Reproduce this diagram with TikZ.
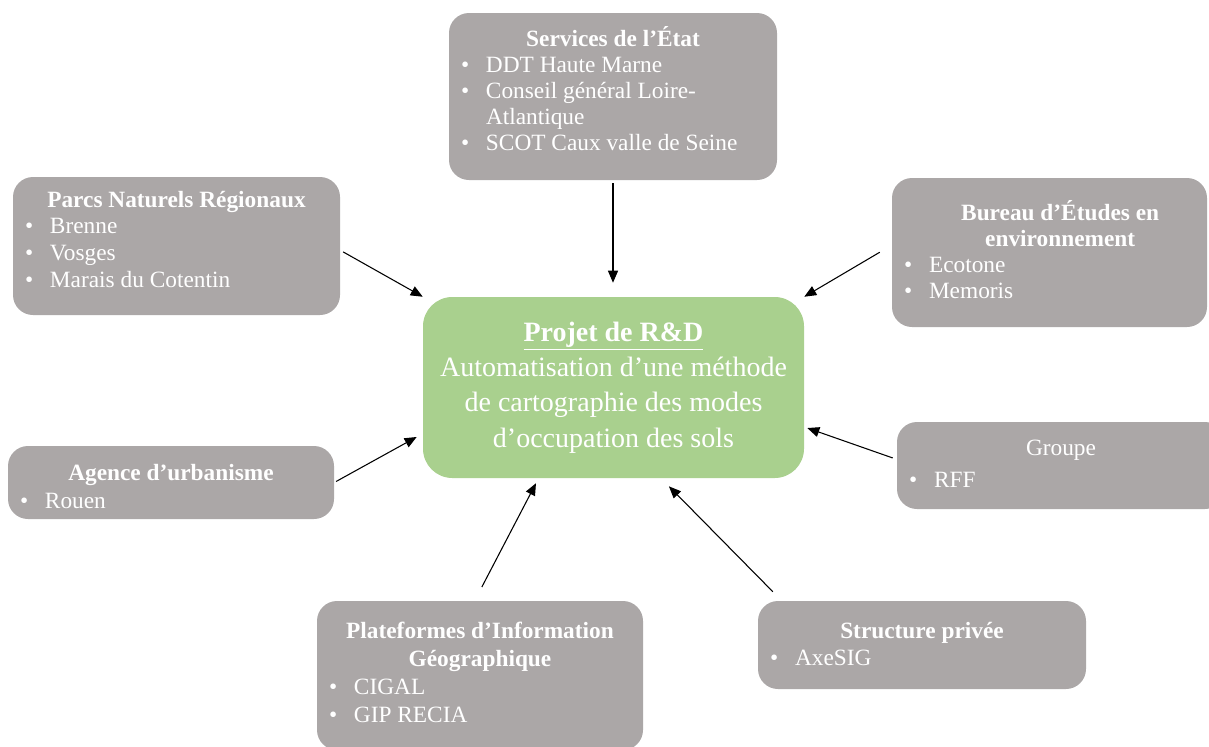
\documentclass[tikz,border=0pt]{standalone}
\usepackage{fontspec}
\setmainfont{Liberation Serif}
\usetikzlibrary{arrows.meta}

\definecolor{boxgrey}{HTML}{ABA7A7}
\definecolor{projgreen}{HTML}{A9D08E}

% one bullet line inside a box
\newcommand\itm{\par\noindent\hspace*{3pt}\makebox[18.75pt][l]{\textbullet}}
% continuation of a bullet line
\newcommand\suite{\par\noindent\hspace*{21.75pt}}

\tikzset{
  bloc/.style={draw=none, fill=boxgrey, rounded corners=15pt, text=white,
    align=flush left, inner xsep=6pt, inner ysep=0pt,
    font=\fontsize{17.5}{19.5}\selectfont},
  projet/.style={fill=projgreen, rounded corners=22pt, text=white,
    align=flush center, inner xsep=6pt, inner ysep=0pt, text width=273.75pt,
    minimum height=135.75pt, font=\fontsize{21}{26.6}\selectfont},
  lift/.style={execute at end node={\par\vspace*{#1}}},
  fleche/.style={draw=black, line width=0.8pt,
    -{Triangle[length=9pt,width=7.5pt]}}
}

\begin{document}
\begin{tikzpicture}[x=0.75pt,y=-0.75pt]
  \useasboundingbox (0,0) rectangle (1209,746);
  \clip (0,0) rectangle (1209,746);

  \node[projet] (ctr) at (613.5,387.5)
    {\underline{\textbf{Projet de R\&D}}\\
     Automatisation d’une méthode\\
     de cartographie des modes\\
     d’occupation des sols};

  \node[bloc, lift=12pt, text width=234pt, minimum height=125.25pt] (srv) at (613,96.5)
    {{\centering\bfseries Services de l’État\par}
     \itm DDT Haute Marne
     \itm Conseil général Loire-
     \suite Atlantique
     \itm SCOT Caux valle de Seine};

  \node[bloc, lift=10pt, font=\fontsize{17.5}{20}\selectfont,
        text width=233.25pt, minimum height=103.5pt] (prc) at (176.5,246)
    {{\centering\bfseries Parcs Naturels Régionaux\par}
     \itm Brenne
     \itm Vosges
     \itm Marais du Cotentin};

  \node[bloc, lift=4.5pt, text width=224.25pt, minimum height=111.75pt] (bur) at (1049.5,252.5)
    {{\centering\bfseries\hspace*{16pt}Bureau d’Études en\\\hspace*{16pt}environnement\par}
     \itm Ecotone
     \itm Memoris};

  \node[bloc, lift=-6pt, font=\fontsize{17.5}{21}\selectfont,
        text width=232.5pt, minimum height=54.75pt] (agc) at (171,482.5)
    {{\centering\bfseries Agence d’urbanisme\par}
     \itm Rouen};

  \node[bloc, lift=2pt, font=\fontsize{17.5}{24}\selectfont,
        text width=234pt, minimum height=65.25pt] (grp) at (1061,465.5)
    {{\centering Groupe\par}
     \itm RFF};

  \node[bloc, lift=4pt, font=\fontsize{17.5}{21}\selectfont,
        text width=232.5pt, minimum height=111.75pt] (plt) at (480,675.5)
    {{\centering\bfseries Plateformes d’Information\\Géographique\par}
     \itm CIGAL
     \itm GIP RECIA};

  \node[bloc, lift=1.5pt, font=\fontsize{17.5}{20}\selectfont,
        text width=234pt, minimum height=66pt] (str) at (922,645)
    {{\centering\bfseries Structure privée\par}
     \itm AxeSIG};

  \begin{scope}[fleche]
    \draw[shorten <=2.25pt, shorten >=10.5pt] (srv.south) -- (srv.south |- ctr.north);
    \draw[shorten <=2.5pt] ([yshift=-3.2pt]prc.east) -- (ctr.north west);
    \draw[shorten <=10.4pt] ([yshift=5.5pt]bur.west) -- (ctr.north east);
    \draw[shorten <=1.5pt, shorten >=5.2pt] (agc.east) -- ([yshift=-34.6pt]ctr.west);
    \draw[shorten <=3.2pt, shorten >=2.4pt] ([yshift=4.6pt]grp.west) -- ([yshift=-29.6pt]ctr.east);
    \draw[shorten <=11.6pt, shorten >=4.2pt] ([xshift=-4pt]plt.north) -- ([xshift=-56.2pt]ctr.south);
    \draw[shorten <=9.5pt, shorten >=8.5pt] ([xshift=18pt]str.north west) -- ([xshift=35.6pt]ctr.south);
  \end{scope}
\end{tikzpicture}
\end{document}
